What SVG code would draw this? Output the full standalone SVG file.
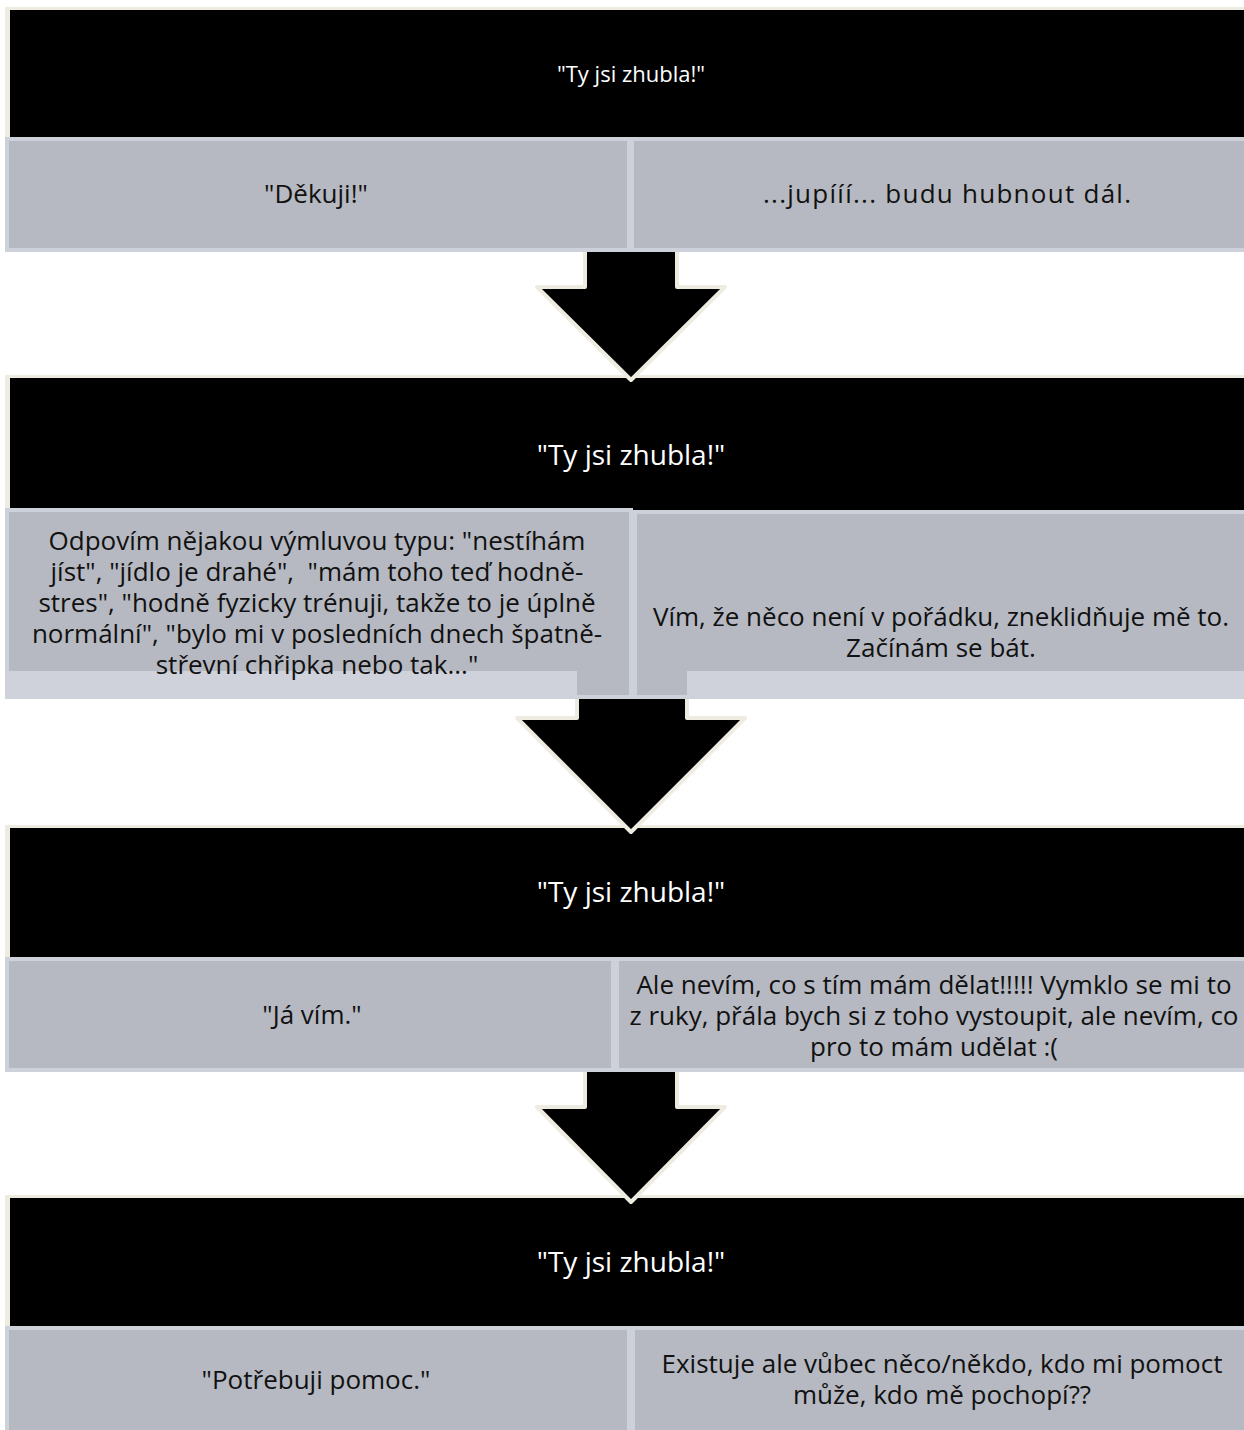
<svg xmlns="http://www.w3.org/2000/svg" width="1244" height="1430" viewBox="0 0 1244 1430">
<style>
.bg{fill:#ffffff}
.frame{fill:#eeece1}
.head{fill:#000000}
.cell{fill:#b6b9c1;stroke:#cdd1da;stroke-width:4}
.strip{fill:#cfd2da}
.t{font-family:"Open Sans","Noto Sans","DejaVu Sans",sans-serif;text-anchor:middle;white-space:pre}
.ti{fill:#ffffff;font-size:28px}
.ti1{fill:#ffffff;font-size:22px}
.b{fill:#111111;font-size:26px}
.arrow{fill:#000000;stroke:#eeece1;stroke-width:4;stroke-linejoin:round}
</style>
<rect class="bg" x="0" y="0" width="1244" height="1430"/>

<g id="step1">
  <g id="title1"><rect class="frame" x="5" y="7" width="1250" height="132"/><rect class="head" x="10" y="10" width="1240" height="127"/>
    <text class="t ti1" x="631" y="82">"Ty jsi zhubla!"</text></g>
  <g id="reply1"><rect class="cell" x="7" y="139" width="622" height="111"/>
    <text class="t b" x="316" y="203">"Děkuji!"</text></g>
  <g id="thought1"><rect class="cell" x="632" y="139" width="620" height="111"/>
    <text class="t b" x="947" y="203" textLength="368" lengthAdjust="spacing">...jupííí... budu hubnout dál.</text></g>
</g>

<g id="step2">
  <g id="title2"><rect class="frame" x="5" y="375" width="1250" height="135"/><rect class="head" x="10" y="378" width="1240" height="132"/>
    <text class="t ti" x="631" y="465">"Ty jsi zhubla!"</text></g>
  <g id="reply2"><rect class="cell" x="7" y="510" width="624" height="187"/>
    <rect class="strip" x="5" y="671" width="572" height="27"/>
    <text class="t b" x="317" y="550">Odpovím nějakou výmluvou typu: "nestíhám</text>
    <text class="t b" x="317" y="581" xml:space="preserve">jíst", "jídlo je drahé",  "mám toho teď hodně-</text>
    <text class="t b" x="317" y="612">stres", "hodně fyzicky trénuji, takže to je úplně</text>
    <text class="t b" x="317" y="643">normální", "bylo mi v posledních dnech špatně-</text>
    <text class="t b" x="317" y="674">střevní chřipka nebo tak..."</text></g>
  <g id="thought2"><rect class="cell" x="635" y="512" width="620" height="185"/>
    <rect class="strip" x="687" y="671" width="560" height="27"/>
    <text class="t b" x="941" y="626">Vím, že něco není v pořádku, zneklidňuje mě to.</text>
    <text class="t b" x="941" y="657">Začínám se bát.</text></g>
</g>

<g id="step3">
  <g id="title3"><rect class="frame" x="5" y="825" width="1250" height="134"/><rect class="head" x="10" y="828" width="1240" height="131"/>
    <text class="t ti" x="631" y="902">"Ty jsi zhubla!"</text></g>
  <g id="reply3"><rect class="cell" x="7" y="959" width="606" height="111"/>
    <text class="t b" x="312" y="1024">"Já vím."</text></g>
  <g id="thought3"><rect class="cell" x="617" y="959" width="640" height="111"/>
    <text class="t b" x="934" y="994">Ale nevím, co s tím mám dělat!!!!! Vymklo se mi to</text>
    <text class="t b" x="934" y="1025">z ruky, přála bych si z toho vystoupit, ale nevím, co</text>
    <text class="t b" x="934" y="1056">pro to mám udělat :(</text></g>
</g>

<g id="step4">
  <g id="title4"><rect class="frame" x="5" y="1195" width="1250" height="133"/><rect class="head" x="10" y="1198" width="1240" height="130"/>
    <text class="t ti" x="631" y="1272">"Ty jsi zhubla!"</text></g>
  <g id="reply4"><rect class="cell" x="7" y="1328" width="622" height="120"/>
    <text class="t b" x="316" y="1389">"Potřebuji pomoc."</text></g>
  <g id="thought4"><rect class="cell" x="633" y="1328" width="620" height="120"/>
    <text class="t b" x="942" y="1373">Existuje ale vůbec něco/někdo, kdo mi pomoct</text>
    <text class="t b" x="942" y="1404">může, kdo mě pochopí??</text></g>
</g>

<g id="connectors">
  <path class="arrow" d="M585,252 V287 H537 L631,380 L725,287 H677 V252"/>
  <path class="arrow" d="M577,699 V718 H517 L631,832 L745,718 H687 V699"/>
  <path class="arrow" d="M585,1072 V1107 H537 L631,1202 L725,1107 H677 V1072"/>
</g>
</svg>
